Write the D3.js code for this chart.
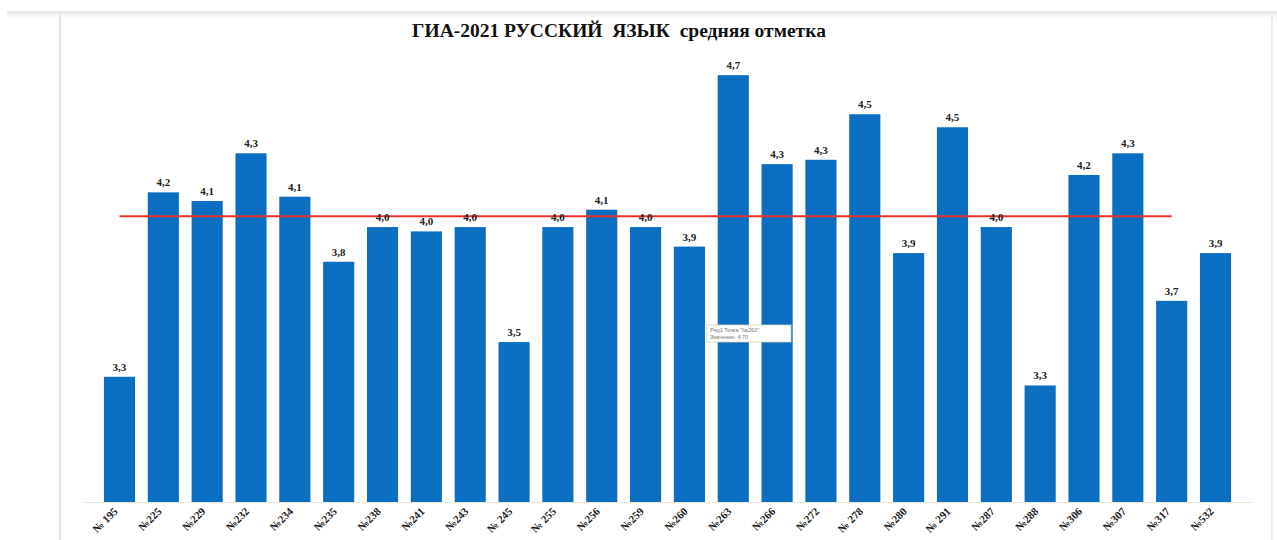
<!DOCTYPE html>
<html><head><meta charset="utf-8">
<script src="https://cdn.jsdelivr.net/npm/d3@7"></script>
<style>body{margin:0;background:#fff;}svg{display:block;}</style>
</head><body>
<svg id="c" width="1277" height="540"></svg>
<script>
const schools = ["№ 195","№225","№229","№232","№234","№235","№238","№241","№243","№ 245","№ 255","№256","№259","№260","№263","№266","№272","№ 278","№280","№ 291","№287","№288","№306","№307","№317","№532"];
const averages = [3.31,4.16,4.12,4.34,4.14,3.84,4.00,3.98,4.00,3.47,4.00,4.08,4.00,3.91,4.70,4.29,4.31,4.52,3.88,4.46,4.00,3.27,4.24,4.34,3.66,3.88];
const cityAverage = 4.05;
const yDomain = [2.733, 4.99];
const title = "ГИА-2021 РУССКИЙ  ЯЗЫК  средняя отметка";
const tooltipLines = ["Ряд1 Точка \"№263\"", "Значение: 4,70"];

const svg = d3.select("#c");
const x = d3.scaleBand().domain(schools).range([82, 1253]).paddingInner(0.29).paddingOuter(0.5);
const y = d3.scaleLinear().domain(yDomain).range([502, 502 - (yDomain[1]-yDomain[0])*217]);

// frame decorations
const g0 = svg.append("g");
const grad = svg.append("defs").append("linearGradient").attr("id","tb").attr("x1",0).attr("y1",0).attr("x2",0).attr("y2",1);
grad.append("stop").attr("offset","0").attr("stop-color","#e6e6e6");
grad.append("stop").attr("offset","1").attr("stop-color","#fafafa");
g0.append("rect").attr("x",7).attr("y",11).attr("width",1270).attr("height",6).attr("fill","url(#tb)");
g0.append("line").attr("x1",60).attr("x2",60).attr("y1",12).attr("y2",540).attr("stroke","#e4e4e4").attr("stroke-width",2);
g0.append("line").attr("x1",1272).attr("x2",1272).attr("y1",12).attr("y2",540).attr("stroke","#ececec").attr("stroke-width",2);

// title
svg.append("text").attr("x",619).attr("y",37).attr("text-anchor","middle")
  .attr("font-family","Liberation Serif, serif").attr("font-weight","bold").attr("font-size",19.5)
  .attr("fill","#111").attr("xml:space","preserve").text(title);

// bars
svg.append("g").selectAll("rect").data(averages).join("rect")
  .attr("x",(d,i)=>x(schools[i])).attr("width",x.bandwidth())
  .attr("y",d=>y(d)).attr("height",d=>y(yDomain[0])-y(d)).attr("fill","#0b6fc1");

// x axis line
const xAxis = d3.axisBottom(x).tickSize(0).tickFormat("");
const ax = svg.append("g").attr("transform","translate(0,502)").call(xAxis);
ax.select(".domain").attr("stroke","#f3e6d8");

// x labels, rotated
svg.append("g").selectAll("g").data(schools).join("g")
  .attr("transform",d=>`translate(${x(d)+x.bandwidth()/2-1},512)`)
  .append("text").attr("transform","rotate(-45)").attr("text-anchor","end")
  .attr("font-family","Liberation Serif, serif").attr("font-weight","bold").attr("font-size",11)
  .attr("fill","#222").text(d=>d);

// average line
svg.append("line").attr("x1",x(schools[0])+x.bandwidth()/2).attr("x2",x(schools[24])+x.bandwidth()/2)
  .attr("y1",y(cityAverage)).attr("y2",y(cityAverage)).attr("stroke","#e8302a").attr("stroke-width",2);

// value labels
const fmt = v => d3.format(".1f")(v).replace(".",",");
svg.append("g").selectAll("text").data(averages).join("text")
  .attr("x",(d,i)=>x(schools[i])+x.bandwidth()/2).attr("y",d=>y(d)-6)
  .attr("text-anchor","middle").attr("font-family","Liberation Serif, serif").attr("font-weight","bold")
  .attr("font-size",11).attr("fill","#222").text(fmt);

// tooltip remnant
const tt = svg.append("g");
tt.append("rect").attr("x",707).attr("y",325).attr("width",84).attr("height",17).attr("fill","#fff").attr("stroke","#d8cfb8").attr("stroke-width",0.8);
tt.selectAll("text").data(tooltipLines).join("text").attr("x",710).attr("y",(d,i)=>332+i*7)
  .attr("font-family","Liberation Sans, sans-serif").attr("font-size",5.5).attr("fill","#777").text(d=>d);
</script>
</body></html>
